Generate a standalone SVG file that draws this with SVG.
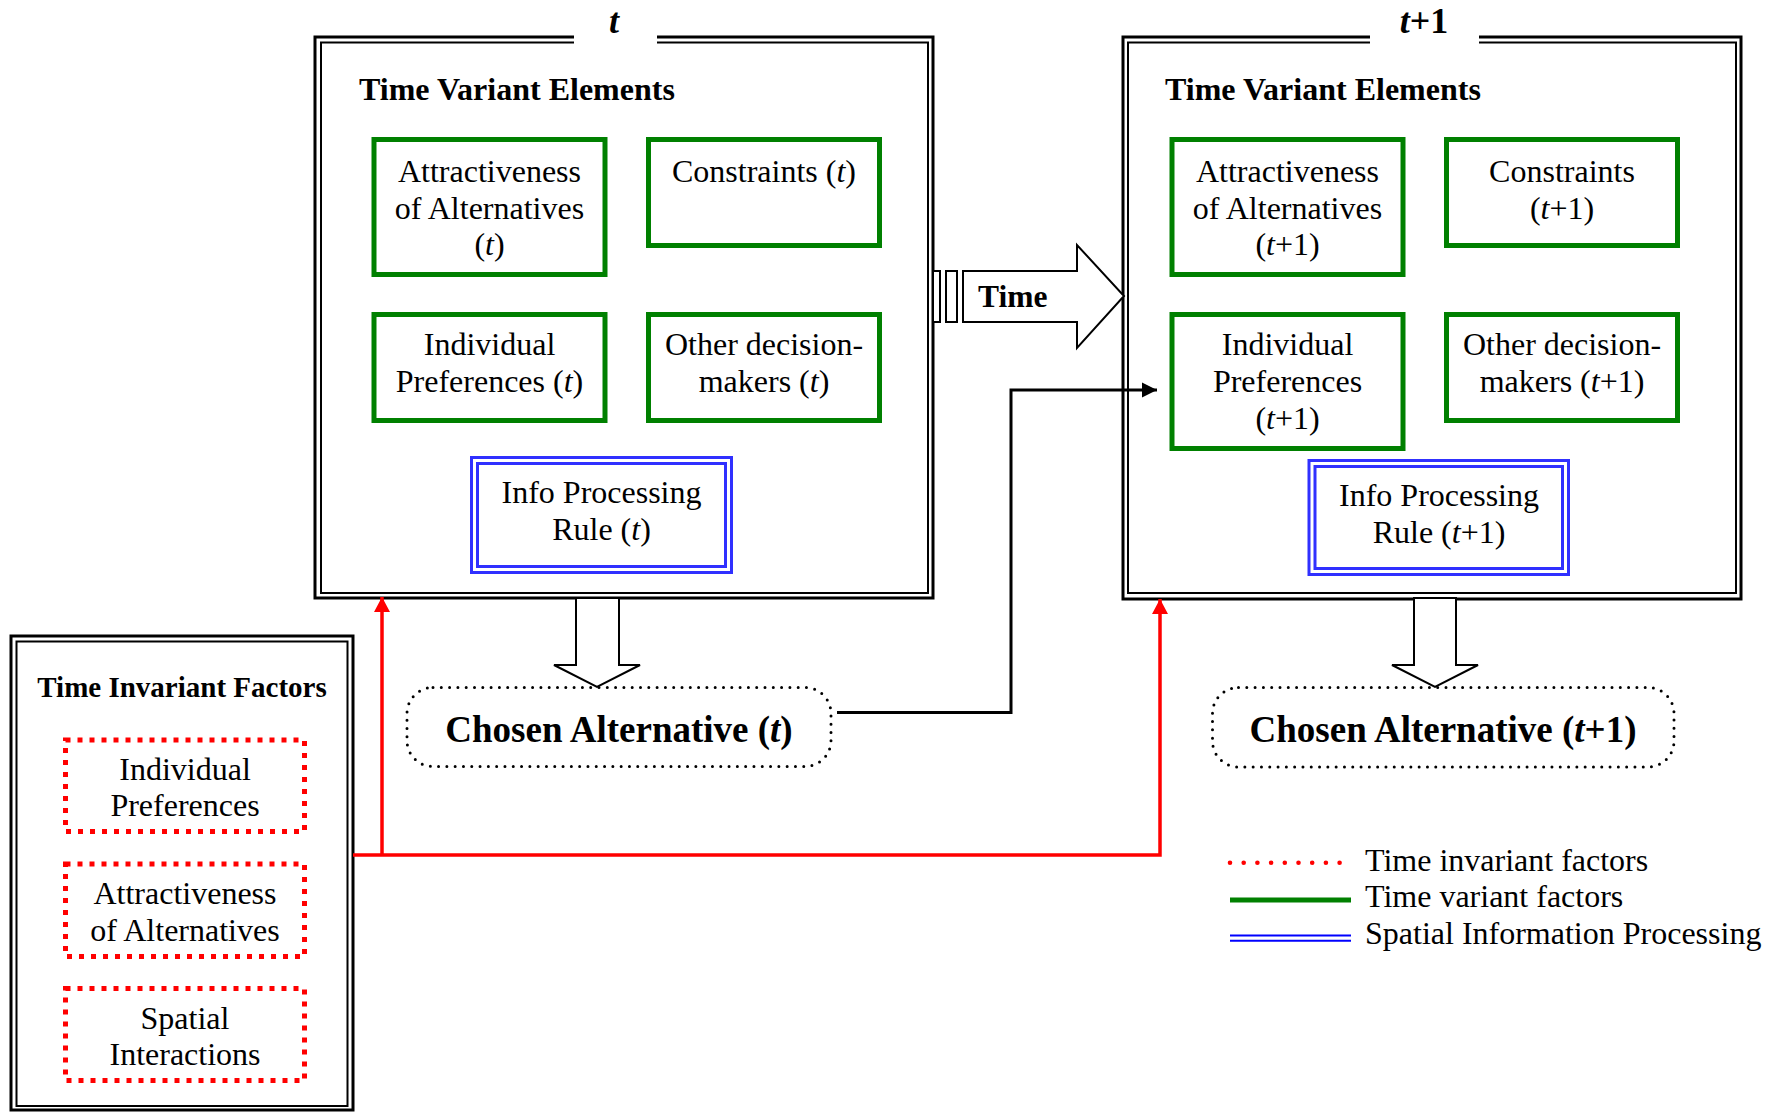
<svg xmlns="http://www.w3.org/2000/svg" width="1775" height="1112" viewBox="0 0 1775 1112">
<style>
.tx{font-family:"Liberation Serif","Times New Roman",serif;font-size:32px;fill:#000}
.c{text-anchor:middle}
.b{font-weight:bold}
.hd{font-family:"Liberation Serif","Times New Roman",serif;font-size:32px;font-weight:bold;fill:#000}
.ttl{font-family:"Liberation Serif","Times New Roman",serif;font-size:36px;font-weight:bold;fill:#000;text-anchor:middle}
.ch{font-family:"Liberation Serif","Times New Roman",serif;font-size:37px;font-weight:bold;fill:#000;text-anchor:middle}
.ol{fill:none;stroke:#000;stroke-width:3}
.il{fill:none;stroke:#000;stroke-width:2}
.gr{fill:#fff;stroke:#008000;stroke-width:5}
.bl{fill:none;stroke:#3030ff;stroke-width:3}
.rd{fill:#fff;stroke:#ff0000;stroke-width:5;stroke-dasharray:5 7}
.dot{fill:none;stroke:#000;stroke-width:3;stroke-dasharray:0 8.3;stroke-linecap:round}
.blk{fill:#fff;stroke:#000;stroke-width:2}
</style>
<defs>
<marker id="ar" markerUnits="userSpaceOnUse" markerWidth="16" markerHeight="16" refX="15" refY="8" orient="auto">
<path d="M0,0 L15,8 L0,16 Z" fill="#ff0000"/>
</marker>
<marker id="ak" markerUnits="userSpaceOnUse" markerWidth="16" markerHeight="16" refX="15" refY="8" orient="auto">
<path d="M0,0.5 L15,8 L0,15.5 Z" fill="#000"/>
</marker>
</defs>
<rect width="1775" height="1112" fill="#fff"/>

<g id="box-t">
<rect class="ol" x="315" y="37" width="618" height="561"/>
<rect class="il" x="321" y="42.5" width="607" height="550.5"/>
<rect x="574" y="28" width="83" height="20" fill="#fff"/>
<text class="ttl" x="614" y="33" font-style="italic">t</text>
<text class="hd" x="359" y="100">Time Variant Elements</text>
</g>
<g id="attr-t">
<rect class="gr" x="374" y="139.5" width="231" height="135"/>
<text class="tx c" x="489.5" y="182">Attractiveness</text>
<text class="tx c" x="489.5" y="218.5">of Alternatives</text>
<text class="tx c" x="489.5" y="255">(<tspan font-style="italic">t</tspan>)</text>
</g>
<g id="constr-t">
<rect class="gr" x="648.5" y="139.5" width="231" height="106"/>
<text class="tx c" x="764" y="182">Constraints (<tspan font-style="italic">t</tspan>)</text>
</g>
<g id="pref-t">
<rect class="gr" x="374" y="314.5" width="231" height="106"/>
<text class="tx c" x="489.5" y="355">Individual</text>
<text class="tx c" x="489.5" y="392">Preferences (<tspan font-style="italic">t</tspan>)</text>
</g>
<g id="other-t">
<rect class="gr" x="648.5" y="314.5" width="231" height="106"/>
<text class="tx c" x="764" y="355">Other decision-</text>
<text class="tx c" x="764" y="392">makers (<tspan font-style="italic">t</tspan>)</text>
</g>
<g id="info-t">
<rect class="bl" x="471.5" y="457.5" width="260" height="115"/>
<rect class="bl" x="477.5" y="463.5" width="248" height="103"/>
<text class="tx c" x="601.5" y="503">Info Processing</text>
<text class="tx c" x="601.5" y="540">Rule (<tspan font-style="italic">t</tspan>)</text>
</g>

<g id="box-t1">
<rect class="ol" x="1123" y="37" width="618" height="562"/>
<rect class="il" x="1128" y="42.5" width="608" height="550.5"/>
<rect x="1370" y="28" width="109" height="20" fill="#fff"/>
<text class="ttl" x="1424" y="33"><tspan font-style="italic">t</tspan>+1</text>
<text class="hd" x="1165" y="100">Time Variant Elements</text>
</g>
<g id="attr-t1">
<rect class="gr" x="1172" y="139.5" width="231" height="135"/>
<text class="tx c" x="1287.5" y="182">Attractiveness</text>
<text class="tx c" x="1287.5" y="218.5">of Alternatives</text>
<text class="tx c" x="1287.5" y="255">(<tspan font-style="italic">t</tspan>+1)</text>
</g>
<g id="constr-t1">
<rect class="gr" x="1446.5" y="139.5" width="231" height="106"/>
<text class="tx c" x="1562" y="182">Constraints</text>
<text class="tx c" x="1562" y="218.5">(<tspan font-style="italic">t</tspan>+1)</text>
</g>
<g id="pref-t1">
<rect class="gr" x="1172" y="314.5" width="231" height="134"/>
<text class="tx c" x="1287.5" y="355">Individual</text>
<text class="tx c" x="1287.5" y="392">Preferences</text>
<text class="tx c" x="1287.5" y="429">(<tspan font-style="italic">t</tspan>+1)</text>
</g>
<g id="other-t1">
<rect class="gr" x="1446.5" y="314.5" width="231" height="106"/>
<text class="tx c" x="1562" y="355">Other decision-</text>
<text class="tx c" x="1562" y="392">makers (<tspan font-style="italic">t</tspan>+1)</text>
</g>
<g id="info-t1">
<rect class="bl" x="1309" y="460.5" width="259.5" height="114"/>
<rect class="bl" x="1315" y="466.5" width="247.5" height="102"/>
<text class="tx c" x="1439" y="506">Info Processing</text>
<text class="tx c" x="1439" y="543">Rule (<tspan font-style="italic">t</tspan>+1)</text>
</g>

<g id="time-arrow">
<rect class="blk" x="933" y="271" width="7" height="51"/>
<rect class="blk" x="946" y="271" width="11" height="51"/>
<polygon class="blk" points="963,271 1077,271 1077,245 1124,296 1077,348 1077,322 963,322"/>
<text class="tx b" x="978" y="307" style="font-size:31.5px">Time</text>
</g>

<g id="chosen-t">
<polygon class="blk" points="576,598 576,665 554,665 597,687 640,665 619,665 619,598"/>
<rect class="dot" x="407" y="687.5" width="424" height="79" rx="26" ry="26"/>
<text class="ch" x="619" y="742">Chosen Alternative (<tspan font-style="italic">t</tspan>)</text>
</g>
<g id="chosen-t1">
<polygon class="blk" points="1414,598 1414,665 1392,665 1435,687 1478,665 1456,665 1456,598"/>
<rect class="dot" x="1212.5" y="687.5" width="461.5" height="79.5" rx="26" ry="26"/>
<text class="ch" x="1443" y="742">Chosen Alternative (<tspan font-style="italic">t</tspan>+1)</text>
</g>

<g id="invariant">
<rect class="ol" x="11" y="636" width="342" height="474"/>
<rect class="il" x="16.5" y="641.5" width="331" height="464.5"/>
<text class="tx b c" x="182" y="697" style="font-size:29px">Time Invariant Factors</text>
<rect class="rd" x="65.5" y="740" width="239" height="91.5"/>
<text class="tx c" x="185" y="779.5">Individual</text>
<text class="tx c" x="185" y="816">Preferences</text>
<rect class="rd" x="65.5" y="864" width="239" height="92.5"/>
<text class="tx c" x="185" y="903.5">Attractiveness</text>
<text class="tx c" x="185" y="941">of Alternatives</text>
<rect class="rd" x="65.5" y="988.5" width="239" height="92"/>
<text class="tx c" x="185" y="1029">Spatial</text>
<text class="tx c" x="185" y="1064.5">Interactions</text>
</g>

<g id="connectors">
<path d="M353,855 H1160 V599" fill="none" stroke="#ff0000" stroke-width="3.5" marker-end="url(#ar)"/>
<path d="M382,855 V597" fill="none" stroke="#ff0000" stroke-width="3.5" marker-end="url(#ar)"/>
<path d="M837,712.5 H1011 V390 H1157" fill="none" stroke="#000" stroke-width="3" marker-end="url(#ak)"/>
</g>

<g id="legend">
<line x1="1230" y1="862.7" x2="1340" y2="862.7" stroke="#ff0000" stroke-width="4.6" stroke-linecap="round" stroke-dasharray="0 13.7"/>
<line x1="1230" y1="900" x2="1351" y2="900" stroke="#008000" stroke-width="5"/>
<line x1="1230" y1="935.5" x2="1351" y2="935.5" stroke="#0000ff" stroke-width="2"/>
<line x1="1230" y1="940.8" x2="1351" y2="940.8" stroke="#0000ff" stroke-width="2"/>
<text class="tx" x="1365" y="870.7">Time invariant factors</text>
<text class="tx" x="1365" y="907.3">Time variant factors</text>
<text class="tx" x="1365" y="944">Spatial Information Processing</text>
</g>
</svg>
